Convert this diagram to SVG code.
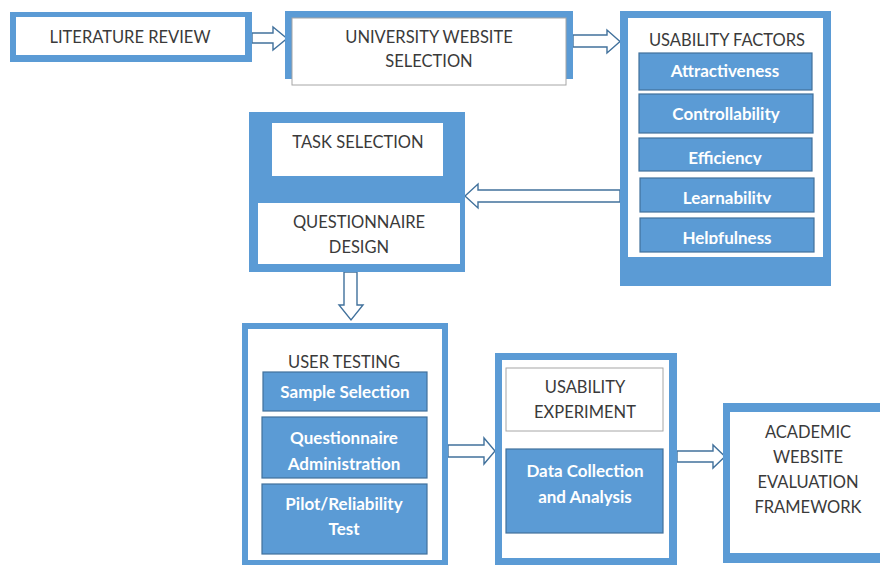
<svg xmlns="http://www.w3.org/2000/svg" width="880" height="565" viewBox="0 0 880 565">
  <style>
    .frame { fill: #5b9bd5; }
    .panel { fill: #ffffff; }
    .panel-edge { fill: #ffffff; stroke: #a6a6a6; stroke-width: 1; }
    .item { fill: #5b9bd5; stroke: #41719c; stroke-width: 1.2; }
    .dark { font-family: Lato, "Liberation Sans", Arial, sans-serif; font-size: 16.5px; fill: #3a3a3a; text-anchor: middle; }
    .light { font-family: Lato, "Liberation Sans", Arial, sans-serif; font-size: 17px; font-weight: bold; fill: #ffffff; text-anchor: middle; }
    .arrow { fill: #ffffff; stroke: #41719c; stroke-width: 1.4; stroke-linejoin: miter; }
  </style>
  <defs>
    <clipPath id="clip-eff"><rect x="639" y="138" width="174" height="27"/></clipPath>
    <clipPath id="clip-learn"><rect x="640" y="178" width="174" height="26"/></clipPath>
    <clipPath id="clip-help"><rect x="640" y="218" width="174" height="26"/></clipPath>
  </defs>
  <rect width="880" height="565" fill="#ffffff"/>

  <!-- connectors: hollow block arrows -->
  <g id="connectors">
    <path class="arrow" d="M252,33 H273 V27 L287,38.5 L273,50 V43 H252 Z"/>
    <path class="arrow" d="M573,35 H607 V30 L620,41.5 L607,53 V47 H573 Z"/>
    <path class="arrow" d="M620,190 H478 V184 L465,196 L478,208 V202 H620 Z"/>
    <path class="arrow" d="M344,272 V305 H339 L351,320 L363,305 H357 V272 Z"/>
    <path class="arrow" d="M448,445 H484 V438 L495,451 L484,464 V457 H448 Z"/>
    <path class="arrow" d="M677,451 H713 V445 L725,456.5 L713,468 V462 H677 Z"/>
  </g>

  <g id="literature-review">
    <rect class="frame" x="10" y="12" width="242" height="50"/>
    <rect class="panel" x="16" y="17" width="229" height="38"/>
    <text class="dark" x="130" y="43">LITERATURE REVIEW</text>
  </g>

  <g id="university-website-selection">
    <rect class="frame" x="285" y="11" width="288" height="68"/>
    <rect class="panel-edge" x="292" y="18" width="274" height="67"/>
    <text class="dark" x="429" y="43">UNIVERSITY WEBSITE</text>
    <text class="dark" x="429" y="67">SELECTION</text>
  </g>

  <g id="usability-factors">
    <rect class="frame" x="620" y="11" width="211" height="275"/>
    <rect class="panel" x="628" y="18" width="195" height="239"/>
    <text class="dark" x="727" y="46">USABILITY FACTORS</text>
    <rect class="item" x="639" y="53" width="173" height="37"/>
    <text class="light" x="725" y="77">Attractiveness</text>
    <rect class="item" x="639" y="94" width="174" height="39"/>
    <text class="light" x="726" y="120">Controllability</text>
    <rect class="item" x="639" y="138" width="173" height="33"/>
    <text class="light" x="725" y="164" clip-path="url(#clip-eff)">Efficiency</text>
    <rect class="item" x="640" y="178" width="174" height="34"/>
    <text class="light" x="727" y="204" clip-path="url(#clip-learn)">Learnability</text>
    <rect class="item" x="640" y="218" width="174" height="34"/>
    <text class="light" x="727" y="244" clip-path="url(#clip-help)">Helpfulness</text>
  </g>

  <g id="task-selection">
    <rect class="frame" x="249" y="112" width="216" height="160"/>
    <rect class="panel" x="272" y="123" width="171" height="53"/>
    <text class="dark" x="358" y="148">TASK SELECTION</text>
    <rect class="panel" x="258" y="203" width="202" height="61"/>
    <text class="dark" x="359" y="228">QUESTIONNAIRE</text>
    <text class="dark" x="359" y="253">DESIGN</text>
  </g>

  <g id="user-testing">
    <rect class="frame" x="242" y="323" width="206" height="245"/>
    <rect class="panel" x="248" y="329" width="194" height="231"/>
    <text class="dark" x="344" y="368">USER TESTING</text>
    <rect class="item" x="263" y="372" width="164" height="39"/>
    <text class="light" x="345" y="398">Sample Selection</text>
    <rect class="item" x="262" y="417" width="165" height="61"/>
    <text class="light" x="344" y="444">Questionnaire</text>
    <text class="light" x="344" y="470">Administration</text>
    <rect class="item" x="262" y="484" width="165" height="70"/>
    <text class="light" x="344" y="510">Pilot/Reliability</text>
    <text class="light" x="344" y="535">Test</text>
  </g>

  <g id="usability-experiment">
    <rect class="frame" x="495" y="353" width="182" height="215"/>
    <rect class="panel" x="502" y="360" width="167" height="198"/>
    <rect class="panel-edge" x="506" y="368" width="157" height="63"/>
    <text class="dark" x="585" y="393">USABILITY</text>
    <text class="dark" x="585" y="418">EXPERIMENT</text>
    <rect class="item" x="506" y="449" width="157" height="84"/>
    <text class="light" x="585" y="477">Data Collection</text>
    <text class="light" x="585" y="503">and Analysis</text>
  </g>

  <g id="evaluation-framework">
    <rect class="frame" x="723" y="403" width="170" height="160"/>
    <rect class="panel" x="730" y="412" width="160" height="141"/>
    <text class="dark" x="808" y="438">ACADEMIC</text>
    <text class="dark" x="808" y="463">WEBSITE</text>
    <text class="dark" x="808" y="488">EVALUATION</text>
    <text class="dark" x="808" y="513">FRAMEWORK</text>
  </g>
</svg>
